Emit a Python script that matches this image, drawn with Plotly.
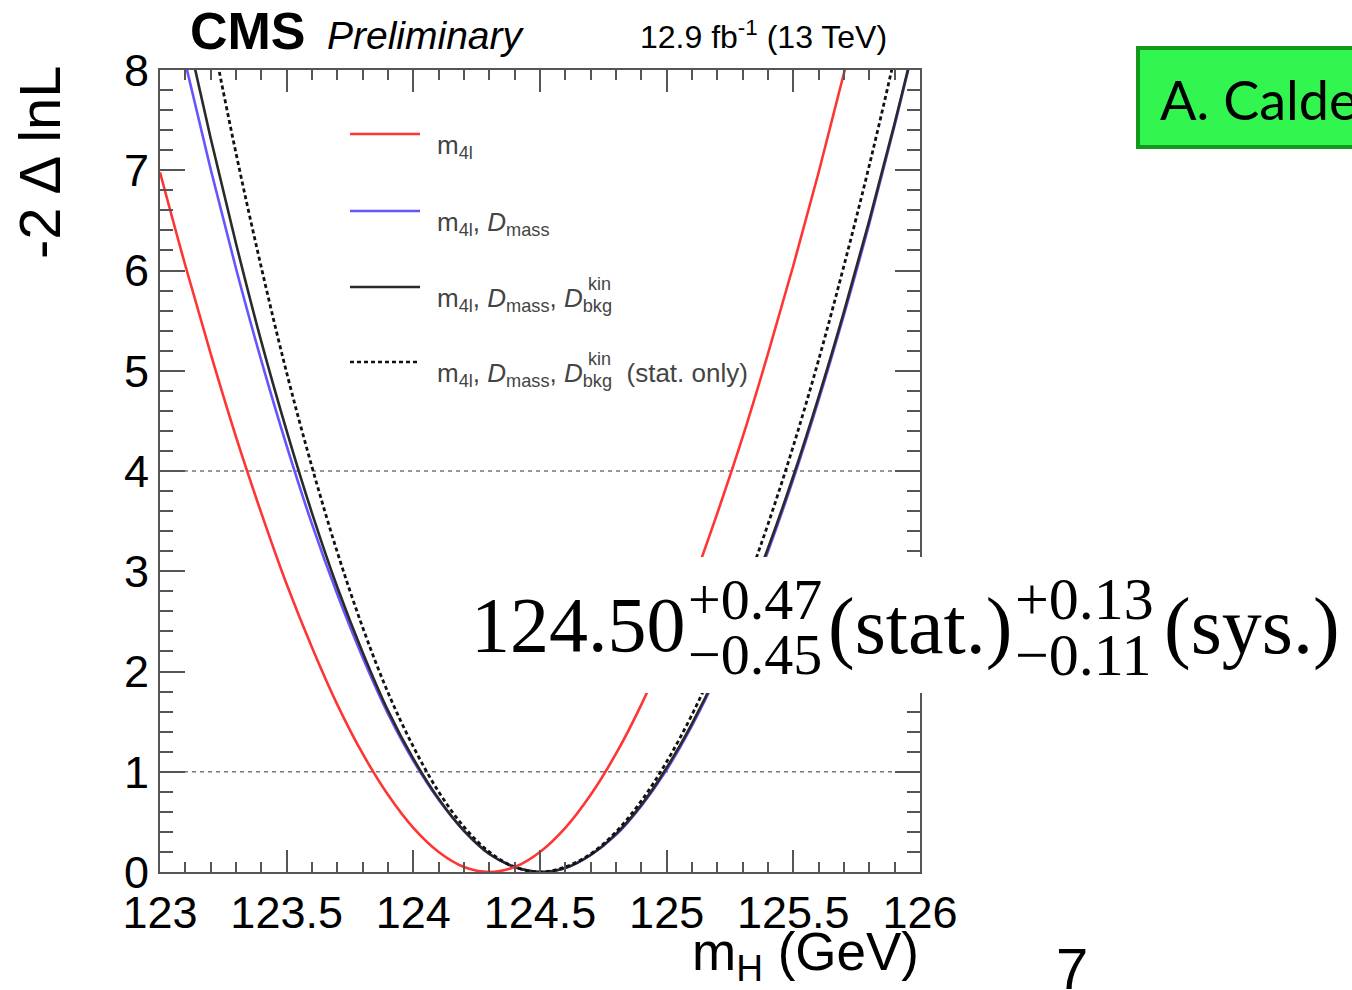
import plotly.graph_objects as go

# ---------------- data ----------------
mass_red = [round(123.0 + 0.1 * i, 1) for i in range(29)]          # 123.0 .. 125.8
nll_m4l = [6.98, 6.05, 5.17, 4.34, 3.58, 2.87, 2.24, 1.67, 1.18, 0.77, 0.44, 0.20, 0.05, 0.00,
           0.05, 0.20, 0.44, 0.77, 1.18, 1.67, 2.24, 2.87, 3.58, 4.34, 5.17, 6.05, 6.98, 7.97, 9.00]

mass = [round(123.0 + 0.1 * i, 1) for i in range(31)]               # 123.0 .. 126.0
nll_m4l_dmass = [9.18, 8.07, 7.01, 6.02, 5.10, 4.25, 3.47, 2.77, 2.14, 1.58, 1.11, 0.72, 0.41, 0.18, 0.05,
                 0.00,
                 0.04, 0.17, 0.37, 0.66, 1.02, 1.46, 1.97, 2.55, 3.20, 3.92, 4.71, 5.56, 6.47, 7.45, 8.48]
nll_m4l_dmass_dkin = [9.65, 8.44, 7.32, 6.27, 5.29, 4.40, 3.58, 2.84, 2.19, 1.61, 1.13, 0.73, 0.41, 0.18, 0.05,
                      0.00,
                      0.04, 0.17, 0.38, 0.67, 1.04, 1.48, 1.99, 2.58, 3.23, 3.95, 4.74, 5.59, 6.50, 7.47, 8.50]
nll_stat_only = [11.21, 9.76, 8.42, 7.17, 6.03, 4.98, 4.04, 3.19, 2.44, 1.79, 1.25, 0.80, 0.45, 0.20, 0.05,
                 0.00,
                 0.05, 0.18, 0.40, 0.71, 1.10, 1.57, 2.12, 2.76, 3.47, 4.25, 5.11, 6.05, 7.05, 8.13, 9.28]

ref_levels = [1, 4]
x_tickvals = [123, 123.5, 124, 124.5, 125, 125.5, 126]
x_ticktext = ["123", "123.5", "124", "124.5", "125", "125.5", "126"]
y_tickvals = [0, 1, 2, 3, 4, 5, 6, 7, 8]

legend_labels = [
    "m<sub>4l</sub>",
    "m<sub>4l</sub>, <i>D</i><sub>mass</sub>",
    "m<sub>4l</sub>, <i>D</i><sub>mass</sub>, <i>D</i><sub>bkg</sub>",
    "m<sub>4l</sub>, <i>D</i><sub>mass</sub>, <i>D</i><sub>bkg</sub>&nbsp; (stat. only)",
]

# ---------------- layout helpers ----------------
W, H = 1352, 990
L, R, T, B = 160, 432, 70, 118
PW, PH = W - L - R, H - T - B


def xp(px):
    return (px - L) / PW


def yp(py):
    return (H - B - py) / PH


SANS = "Liberation Sans, Arial, sans-serif"
SERIF = "Liberation Serif, Times New Roman, serif"
AX = "#555555"

styles = [
    dict(color="#ff3535", width=2.6, dash="solid"),
    dict(color="#6655ff", width=2.6, dash="solid"),
    dict(color="#2a2a2a", width=2.6, dash="solid"),
    dict(color="#111111", width=2.8, dash="4px,3px"),
]

fig = go.Figure()
series = [
    (mass, nll_m4l_dmass, styles[1]),
    (mass, nll_m4l_dmass_dkin, styles[2]),
    (mass, nll_stat_only, styles[3]),
    (mass_red, nll_m4l, styles[0]),
]
for xs, ys, st in series:
    fig.add_trace(go.Scatter(x=xs, y=ys, mode="lines", line=dict(shape="spline", smoothing=1.0, **st),
                             showlegend=False, hoverinfo="skip"))

shapes = []
for lv in ref_levels:
    shapes.append(dict(type="line", xref="x", yref="y", x0=123, x1=126, y0=lv, y1=lv,
                       line=dict(color="#777777", width=1.5, dash="4px,4px"), layer="below"))

annotations = []
# legend
leg_y = [134, 211, 287, 362]
for i, (lab, st, ly) in enumerate(zip(legend_labels, styles, leg_y)):
    shapes.append(dict(type="line", xref="paper", yref="paper", x0=xp(350), x1=xp(420), y0=yp(ly), y1=yp(ly),
                       line=dict(color=st["color"], width=2.6, dash=st["dash"])))
    annotations.append(dict(xref="paper", yref="paper", x=xp(435), y=yp(ly + 12), xanchor="left", yanchor="middle",
                            text=lab, showarrow=False, font=dict(family=SANS, size=26, color="#444444")))
    if i >= 2:
        annotations.append(dict(xref="paper", yref="paper", x=xp(586), y=yp(ly - 3), xanchor="left",
                                yanchor="middle", text="kin", showarrow=False,
                                font=dict(family=SANS, size=18, color="#444444")))

# header
annotations += [
    dict(xref="paper", yref="paper", x=xp(188), y=yp(31), xanchor="left", yanchor="middle",
         text="<b>CMS</b>", showarrow=False, font=dict(family=SANS, size=52, color="black")),
    dict(xref="paper", yref="paper", x=xp(325), y=yp(35), xanchor="left", yanchor="middle",
         text="<i>Preliminary</i>", showarrow=False, font=dict(family=SANS, size=39, color="black")),
    dict(xref="paper", yref="paper", x=xp(638), y=yp(35), xanchor="left", yanchor="middle",
         text="12.9 fb<sup>-1</sup> (13 TeV)", showarrow=False, font=dict(family=SANS, size=32, color="black")),
    # axis titles
    dict(xref="paper", yref="paper", x=xp(921), y=yp(956), xanchor="right", yanchor="middle",
         text="m<sub>H</sub> (GeV)", showarrow=False, font=dict(family=SANS, size=53, color="black")),
    dict(xref="paper", yref="paper", x=xp(40), y=yp(63), xanchor="center", yanchor="top", textangle=-90,
         text="-2 \u0394 lnL", showarrow=False, font=dict(family=SANS, size=58, color="black")),
]

# result formula on white box
shapes.append(dict(type="rect", xref="paper", yref="paper", x0=xp(463), x1=xp(1360), y0=yp(693), y1=yp(557),
                   fillcolor="white", line=dict(width=0), layer="above"))
big = 78
small = 58
annotations += [
    dict(xref="paper", yref="paper", x=xp(469), y=yp(625), xanchor="left", yanchor="middle",
         text="124.50", showarrow=False, font=dict(family=SERIF, size=big, color="black")),
    dict(xref="paper", yref="paper", x=xp(686), y=yp(599), xanchor="left", yanchor="middle",
         text="+0.47", showarrow=False, font=dict(family=SERIF, size=small, color="black")),
    dict(xref="paper", yref="paper", x=xp(686), y=yp(655), xanchor="left", yanchor="middle",
         text="\u22120.45", showarrow=False, font=dict(family=SERIF, size=small, color="black")),
    dict(xref="paper", yref="paper", x=xp(826), y=yp(626), xanchor="left", yanchor="middle",
         text="(stat.)", showarrow=False, font=dict(family=SERIF, size=80, color="black")),
    dict(xref="paper", yref="paper", x=xp(1013), y=yp(599), xanchor="left", yanchor="middle",
         text="+0.13", showarrow=False, font=dict(family=SERIF, size=small + 2, color="black")),
    dict(xref="paper", yref="paper", x=xp(1013), y=yp(655), xanchor="left", yanchor="middle",
         text="\u22120.11", showarrow=False, font=dict(family=SERIF, size=small + 2, color="black")),
    dict(xref="paper", yref="paper", x=xp(1162), y=yp(626), xanchor="left", yanchor="middle",
         text="(sys.)", showarrow=False, font=dict(family=SERIF, size=80, color="black")),
]

# green name box and page number
shapes.append(dict(type="rect", xref="paper", yref="paper", x0=xp(1138), x1=xp(1370), y0=yp(147), y1=yp(48),
                   fillcolor="#33f54f", line=dict(color="#139a1c", width=4), layer="above"))
annotations += [
    dict(xref="paper", yref="paper", x=xp(1158), y=yp(99), xanchor="left", yanchor="middle",
         text="A. Calde", showarrow=False, font=dict(family="Lato, Open Sans, sans-serif", size=54, color="black")),
    dict(xref="paper", yref="paper", x=xp(1072), y=yp(968), xanchor="center", yanchor="middle",
         text="7", showarrow=False, font=dict(family=SANS, size=58, color="black")),
]

axis_common = dict(showgrid=False, zeroline=False, showline=True, linecolor=AX, linewidth=2,
                   mirror="allticks", ticks="inside", tickcolor=AX, tickwidth=2,
                   tickfont=dict(family=SANS, size=45, color="black"))

fig.update_layout(
    width=W, height=H, margin=dict(l=L, r=R, t=T, b=B, pad=0),
    paper_bgcolor="white", plot_bgcolor="white",
    xaxis=dict(range=[123, 126], tickvals=x_tickvals, ticktext=x_ticktext, ticklen=22,
               ticklabelstandoff=0,
               minor=dict(dtick=0.1, tick0=123, ticklen=10, tickwidth=1.5, tickcolor=AX, ticks="inside"),
               **axis_common),
    yaxis=dict(range=[0, 8], tickvals=y_tickvals, ticklen=25, ticklabelstandoff=0,
               minor=dict(dtick=0.2, tick0=0, ticklen=13, tickwidth=1.5, tickcolor=AX, ticks="inside"),
               **axis_common),
    shapes=shapes,
    annotations=annotations,
)

fig.write_html("out.html")
